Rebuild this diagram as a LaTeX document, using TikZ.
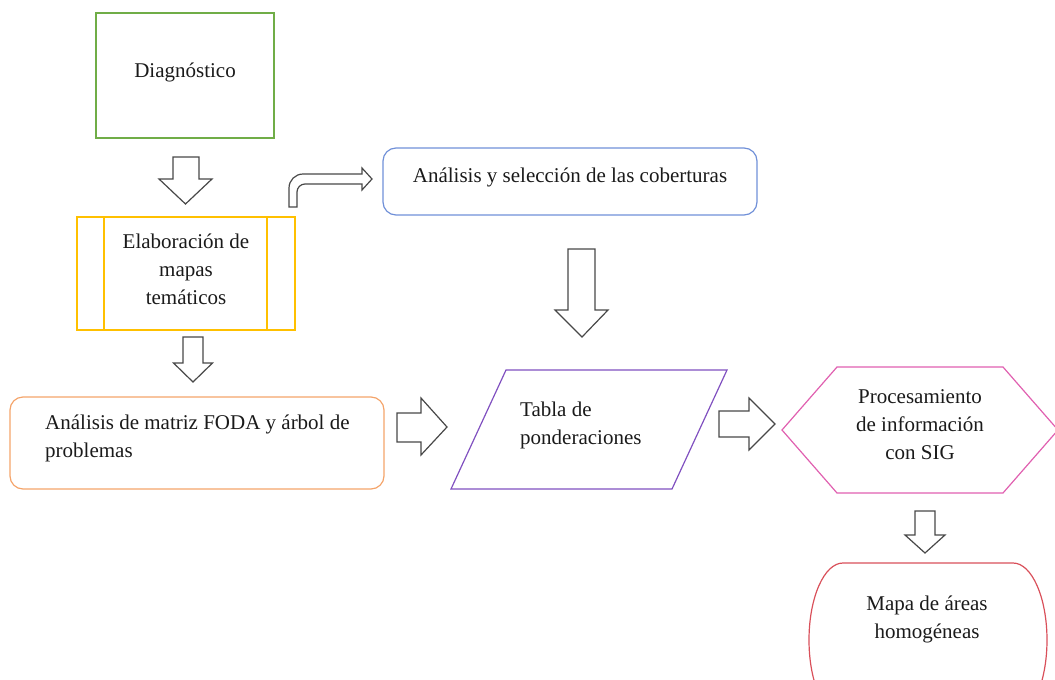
\documentclass[tikz,border=0pt]{standalone}
\usepackage{fontspec}
\setmainfont{Liberation Serif}
\begin{document}
\definecolor{cgreen}{HTML}{70AD47}
\definecolor{cyellow}{HTML}{FFC000}
\definecolor{corange}{HTML}{F4A46A}
\definecolor{cblue}{HTML}{7090D8}
\definecolor{cpurple}{HTML}{8050C0}
\definecolor{cpink}{HTML}{E060B0}
\definecolor{cred}{HTML}{D9505A}
\definecolor{ctext}{HTML}{1A1A1A}
\definecolor{carrow}{HTML}{484848}
\begin{tikzpicture}[x=1pt,y=1pt,
  txt/.style={inner sep=0pt,text=ctext,font=\fontsize{21}{28}\selectfont,align=center},
  outline/.style={line width=1.2pt},
  blockarrow/.style={draw=carrow,line width=1.2pt,fill=white,line join=miter}]
\useasboundingbox (0,0) rectangle (1055,-680);
\clip (0,0) rectangle (1055,-680);

% Diagnóstico
\draw[outline,cgreen] (96,-13) rectangle (274,-138);
\node[txt] (diag) at (185,-72) {Diagnóstico};

% Elaboración de mapas temáticos (predefined process)
\draw[outline,cyellow] (77,-217) rectangle (295,-330);
\draw[outline,cyellow] (104,-217) -- (104,-330) (267,-217) -- (267,-330);
\node[txt] (mapas) at (186,-269) {Elaboración de\\mapas\\temáticos};

% Análisis de matriz FODA
\draw[outline,corange,rounded corners=13] (10,-397) rectangle (384,-489);
\node[txt,align=left,anchor=west] (foda) at (45,-438) {Análisis de matriz FODA y árbol de\\problemas};

% Análisis y selección de las coberturas
\draw[outline,cblue,rounded corners=13] (383,-148) rectangle (757,-215);
\node[txt] (cober) at (570,-177) {Análisis y selección de las coberturas};

% Tabla de ponderaciones (parallelogram)
\draw[outline,cpurple] (506,-370) -- (727,-370) -- (672,-489) -- (451,-489) -- cycle;
\node[txt,align=left,anchor=west] (tabla) at (520,-425) {Tabla de\\ponderaciones};

% Procesamiento (hexagon)
\draw[outline,cpink] (782,-430) -- (837,-367) -- (1003,-367) -- (1058,-430) -- (1003,-493) -- (837,-493) -- cycle;
\node[txt] (sig) at (920,-425) {Procesamiento\\de información\\con SIG};

% Mapa de áreas homogéneas (terminator)
\draw[outline,cred] (843,-563) -- (1013,-563)
  arc[start angle=90,end angle=-90,x radius=34,y radius=77] -- (843,-717)
  arc[start angle=270,end angle=90,x radius=34,y radius=77] -- cycle;
\node[txt] (mapa) at (927,-619) {Mapa de áreas\\homogéneas};

% block arrows
\draw[blockarrow] (173,-157) -- (199,-157) -- (199,-179) -- (212,-179) -- (185.5,-204) -- (159,-179) -- (173,-179) -- cycle;
\draw[blockarrow] (183,-337) -- (203,-337) -- (203,-363) -- (212.5,-363) -- (193,-382) -- (173.5,-363) -- (183,-363) -- cycle;
\draw[blockarrow] (568,-249) -- (595,-249) -- (595,-310) -- (608,-310) -- (582,-337) -- (555,-310) -- (568,-310) -- cycle;
\draw[blockarrow] (397,-413) -- (421,-413) -- (421,-398) -- (447,-427) -- (421,-455) -- (421,-442) -- (397,-442) -- cycle;
\draw[blockarrow] (719,-411) -- (749,-411) -- (749,-398) -- (775,-424) -- (749,-450) -- (749,-437) -- (719,-437) -- cycle;
\draw[blockarrow] (915,-511) -- (935,-511) -- (935,-535) -- (945,-535) -- (925,-553) -- (905,-535) -- (915,-535) -- cycle;
% bent arrow
\draw[blockarrow] (289,-207) -- (289,-188) arc[start angle=180,end angle=90,radius=14]
  -- (362,-174) -- (362,-168) -- (372,-179) -- (362,-190) -- (362,-184) -- (305,-184)
  arc[start angle=90,end angle=180,radius=8] -- (297,-207) -- cycle;
\end{tikzpicture}
\end{document}
